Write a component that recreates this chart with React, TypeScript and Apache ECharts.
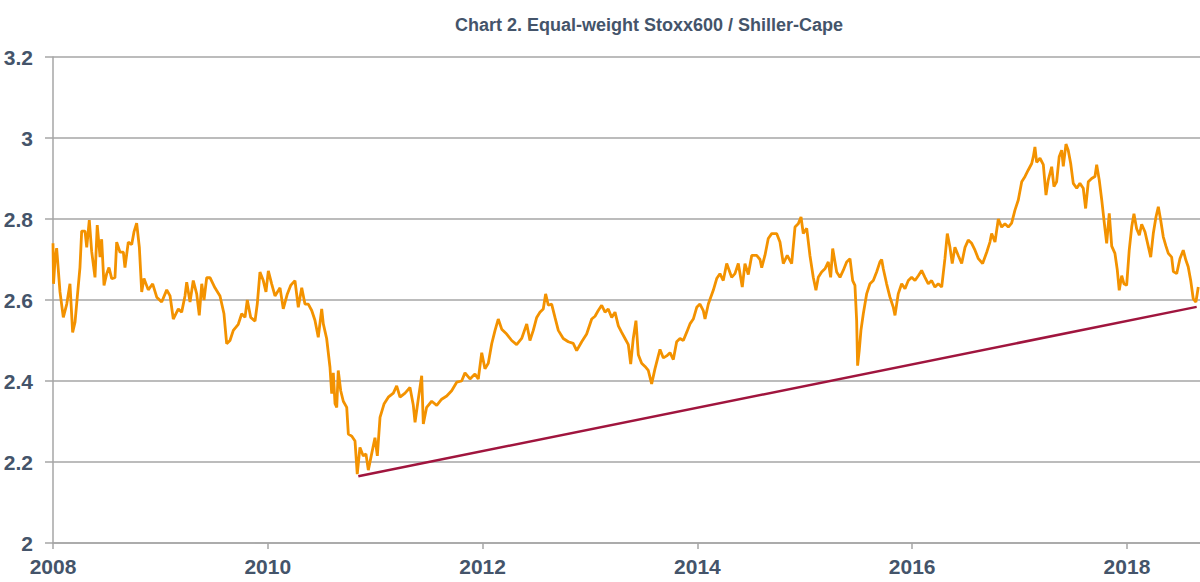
import React, { useEffect, useRef } from "react";
import * as echarts from "echarts";

const TITLE = "Chart 2. Equal-weight Stoxx600 / Shiller-Cape";

const yearTicks = [2008, 2010, 2012, 2014, 2016, 2018];
const valueTicks = [2, 2.2, 2.4, 2.6, 2.8, 3, 3.2];

// decimal years
const years = [
  2008.0, 2008.005, 2008.019, 2008.034, 2008.065, 2008.096, 2008.128, 2008.158, 2008.183, 2008.205,
  2008.226, 2008.251, 2008.267, 2008.298, 2008.314, 2008.338, 2008.36, 2008.391, 2008.412, 2008.438,
  2008.453, 2008.475, 2008.5, 2008.521, 2008.547, 2008.577, 2008.593, 2008.624, 2008.655, 2008.67,
  2008.701, 2008.733, 2008.754, 2008.779, 2008.804, 2008.826, 2008.847, 2008.887, 2008.928, 2008.966,
  2009.012, 2009.059, 2009.09, 2009.12, 2009.167, 2009.198, 2009.229, 2009.245, 2009.276, 2009.306,
  2009.338, 2009.362, 2009.385, 2009.406, 2009.431, 2009.462, 2009.508, 2009.555, 2009.592, 2009.617,
  2009.648, 2009.679, 2009.725, 2009.757, 2009.788, 2009.809, 2009.841, 2009.881, 2009.902, 2009.927,
  2009.958, 2009.983, 2010.005, 2010.036, 2010.067, 2010.114, 2010.144, 2010.182, 2010.213, 2010.253,
  2010.284, 2010.316, 2010.346, 2010.377, 2010.409, 2010.439, 2010.47, 2010.502, 2010.517, 2010.548,
  2010.579, 2010.595, 2010.61, 2010.626, 2010.642, 2010.656, 2010.679, 2010.703, 2010.735, 2010.75,
  2010.781, 2010.812, 2010.833, 2010.858, 2010.889, 2010.914, 2010.936, 2010.967, 2010.998, 2011.02,
  2011.045, 2011.082, 2011.122, 2011.169, 2011.2, 2011.231, 2011.278, 2011.324, 2011.355, 2011.371,
  2011.401, 2011.433, 2011.448, 2011.479, 2011.526, 2011.573, 2011.619, 2011.666, 2011.712, 2011.759,
  2011.805, 2011.836, 2011.883, 2011.929, 2011.96, 2011.992, 2012.022, 2012.053, 2012.085, 2012.116,
  2012.146, 2012.178, 2012.224, 2012.271, 2012.317, 2012.364, 2012.411, 2012.441, 2012.472, 2012.504,
  2012.534, 2012.565, 2012.587, 2012.612, 2012.643, 2012.674, 2012.705, 2012.751, 2012.798, 2012.844,
  2012.876, 2012.923, 2012.969, 2013.016, 2013.047, 2013.077, 2013.109, 2013.14, 2013.17, 2013.202,
  2013.233, 2013.264, 2013.295, 2013.326, 2013.357, 2013.379, 2013.403, 2013.428, 2013.45, 2013.481,
  2013.512, 2013.543, 2013.574, 2013.605, 2013.636, 2013.652, 2013.683, 2013.714, 2013.745, 2013.776,
  2013.807, 2013.838, 2013.869, 2013.9, 2013.931, 2013.962, 2013.994, 2014.024, 2014.055, 2014.071,
  2014.102, 2014.148, 2014.18, 2014.21, 2014.241, 2014.273, 2014.319, 2014.35, 2014.381, 2014.418,
  2014.443, 2014.474, 2014.506, 2014.552, 2014.583, 2014.599, 2014.629, 2014.66, 2014.692, 2014.738,
  2014.769, 2014.8, 2014.837, 2014.878, 2014.909, 2014.939, 2014.965, 2014.986, 2015.018, 2015.048,
  2015.079, 2015.104, 2015.126, 2015.157, 2015.188, 2015.219, 2015.241, 2015.26, 2015.297, 2015.328,
  2015.358, 2015.39, 2015.421, 2015.446, 2015.467, 2015.483, 2015.492, 2015.507, 2015.523, 2015.545,
  2015.576, 2015.607, 2015.638, 2015.669, 2015.7, 2015.716, 2015.731, 2015.762, 2015.793, 2015.824,
  2015.84, 2015.87, 2015.902, 2015.933, 2015.964, 2015.995, 2016.026, 2016.057, 2016.088, 2016.119,
  2016.15, 2016.181, 2016.212, 2016.243, 2016.275, 2016.305, 2016.327, 2016.352, 2016.373, 2016.398,
  2016.429, 2016.461, 2016.492, 2016.522, 2016.554, 2016.585, 2016.616, 2016.656, 2016.694, 2016.724,
  2016.74, 2016.771, 2016.802, 2016.833, 2016.864, 2016.895, 2016.926, 2016.957, 2016.988, 2017.02,
  2017.051, 2017.081, 2017.113, 2017.128, 2017.143, 2017.159, 2017.19, 2017.221, 2017.246, 2017.267,
  2017.299, 2017.32, 2017.345, 2017.369, 2017.392, 2017.407, 2017.432, 2017.453, 2017.476, 2017.5,
  2017.532, 2017.562, 2017.593, 2017.615, 2017.64, 2017.671, 2017.702, 2017.718, 2017.742, 2017.765,
  2017.786, 2017.811, 2017.835, 2017.858, 2017.888, 2017.91, 2017.928, 2017.951, 2017.972, 2017.997,
  2018.021, 2018.044, 2018.065, 2018.09, 2018.115, 2018.137, 2018.168, 2018.198, 2018.221, 2018.245,
  2018.27, 2018.292, 2018.314, 2018.338, 2018.363, 2018.385, 2018.416, 2018.432, 2018.463, 2018.493,
  2018.524, 2018.549, 2018.57, 2018.593, 2018.617, 2018.642, 2018.664,
];

// Equal-weight Stoxx600 / Shiller-CAPE ratio
const ratio = [
  2.74, 2.64, 2.7, 2.728, 2.62, 2.557, 2.59, 2.64, 2.52, 2.545,
  2.607, 2.68, 2.77, 2.77, 2.73, 2.797, 2.72, 2.656, 2.785, 2.706,
  2.75, 2.636, 2.665, 2.68, 2.653, 2.655, 2.743, 2.718, 2.718, 2.68,
  2.743, 2.737, 2.768, 2.79, 2.73, 2.62, 2.653, 2.625, 2.64, 2.607,
  2.595, 2.625, 2.61, 2.553, 2.578, 2.57, 2.61, 2.644, 2.595, 2.648,
  2.615, 2.562, 2.64, 2.6, 2.655, 2.655, 2.63, 2.61, 2.566, 2.492,
  2.5, 2.525, 2.54, 2.566, 2.557, 2.6, 2.557, 2.548, 2.59, 2.669,
  2.648, 2.62, 2.672, 2.64, 2.61, 2.63, 2.578, 2.615, 2.636, 2.648,
  2.582, 2.63, 2.59, 2.59, 2.574, 2.55, 2.508, 2.578, 2.541, 2.505,
  2.434, 2.369, 2.42, 2.344, 2.335, 2.426, 2.376, 2.35, 2.335, 2.269,
  2.264, 2.252, 2.17, 2.236, 2.215, 2.22, 2.18, 2.22, 2.26, 2.215,
  2.31, 2.343, 2.36, 2.37, 2.388, 2.36, 2.37, 2.384, 2.34, 2.298,
  2.355, 2.413, 2.294, 2.335, 2.35, 2.34, 2.355, 2.363, 2.376, 2.397,
  2.4, 2.42, 2.405, 2.417, 2.405, 2.47, 2.43, 2.444, 2.492, 2.525,
  2.553, 2.528, 2.516, 2.5, 2.49, 2.505, 2.541, 2.5, 2.525, 2.557,
  2.57, 2.578, 2.615, 2.587, 2.59, 2.557, 2.525, 2.505, 2.497, 2.493,
  2.475, 2.497, 2.516, 2.553, 2.56, 2.574, 2.587, 2.57, 2.578, 2.557,
  2.57, 2.536, 2.52, 2.505, 2.49, 2.442, 2.505, 2.549, 2.465, 2.444,
  2.436, 2.426, 2.393, 2.43, 2.462, 2.478, 2.457, 2.462, 2.47, 2.453,
  2.497, 2.505, 2.5, 2.52, 2.541, 2.553, 2.582, 2.59, 2.574, 2.553,
  2.59, 2.624, 2.653, 2.665, 2.648, 2.69, 2.656, 2.665, 2.69, 2.632,
  2.69, 2.663, 2.71, 2.71, 2.7, 2.68, 2.71, 2.752, 2.764, 2.764,
  2.743, 2.69, 2.71, 2.69, 2.78, 2.788, 2.805, 2.764, 2.777, 2.71,
  2.656, 2.624, 2.656, 2.669, 2.677, 2.694, 2.656, 2.727, 2.669, 2.656,
  2.673, 2.694, 2.702, 2.648, 2.636, 2.549, 2.438, 2.475, 2.525, 2.566,
  2.615, 2.64, 2.648, 2.669, 2.694, 2.7, 2.677, 2.64, 2.607, 2.582,
  2.562, 2.615, 2.64, 2.628, 2.648, 2.656, 2.648, 2.66, 2.673, 2.656,
  2.64, 2.648, 2.632, 2.64, 2.632, 2.702, 2.764, 2.73, 2.69, 2.73,
  2.71, 2.69, 2.73, 2.748, 2.74, 2.723, 2.702, 2.69, 2.718, 2.743,
  2.764, 2.743, 2.8, 2.78, 2.788, 2.78, 2.79, 2.822, 2.847, 2.892,
  2.905, 2.921, 2.937, 2.954, 2.978, 2.94, 2.95, 2.934, 2.859, 2.896,
  2.929, 2.88, 2.892, 2.954, 2.97, 2.93, 2.985, 2.97, 2.937, 2.888,
  2.876, 2.888, 2.876, 2.826, 2.892, 2.9, 2.905, 2.934, 2.896, 2.847,
  2.797, 2.74, 2.814, 2.733, 2.715, 2.674, 2.624, 2.66, 2.64, 2.636,
  2.723, 2.78, 2.813, 2.776, 2.76, 2.787, 2.768, 2.733, 2.706, 2.764,
  2.805, 2.83, 2.797, 2.756, 2.733, 2.715, 2.706, 2.67, 2.665, 2.702,
  2.723, 2.698, 2.682, 2.649, 2.603, 2.595, 2.632,
];

// support trend line endpoints
const trendYears = [2010.843, 2018.649];
const trendValues = [2.165, 2.583];

const X_MIN = 2008;
const X_MAX = 2018.68;

const LABEL_COLOR = "#44546a";
const GRID_COLOR = "#a6a6a6";

export default function App() {
  const ref = useRef<HTMLDivElement>(null);

  useEffect(() => {
    if (!ref.current) return;
    const chart = echarts.init(ref.current, undefined, { renderer: "svg" });
    const lineData = years.map((y, i) => [y, ratio[i]]);
    const trendData = trendYears.map((y, i) => [y, trendValues[i]]);
    chart.setOption({
      animation: false,
      backgroundColor: "#ffffff",
      title: {
        text: TITLE,
        left: 644,
        top: 11,
        textAlign: "center",
        textStyle: {
          fontFamily: "Liberation Sans, Arial, sans-serif",
          fontWeight: "bold",
          fontSize: 18,
          color: LABEL_COLOR,
        },
      },
      grid: { left: 53, right: 0, top: 57, bottom: 39, containLabel: false },
      xAxis: {
        type: "value",
        min: X_MIN,
        max: X_MAX,
        interval: 2,
        axisLine: { show: true, onZero: false, lineStyle: { color: GRID_COLOR, width: 1.5 } },
        axisTick: { show: true, length: 6, lineStyle: { color: GRID_COLOR, width: 1.5 } },
        splitLine: { show: false },
        axisLabel: {
          showMaxLabel: false,
          margin: 13,
          color: LABEL_COLOR,
          fontFamily: "Liberation Sans, Arial, sans-serif",
          fontWeight: "bold",
          fontSize: 21,
          formatter: (v: number) => (yearTicks.includes(Math.round(v)) ? String(Math.round(v)) : ""),
        },
      },
      yAxis: {
        type: "value",
        min: valueTicks[0],
        max: valueTicks[valueTicks.length - 1],
        interval: 0.2,
        axisLine: { show: true, lineStyle: { color: GRID_COLOR, width: 1.5 } },
        axisTick: { show: true, length: 8, lineStyle: { color: GRID_COLOR, width: 1.5 } },
        splitLine: { show: true, lineStyle: { color: GRID_COLOR, width: 1.5 } },
        axisLabel: {
          margin: 20,
          color: LABEL_COLOR,
          fontFamily: "Liberation Sans, Arial, sans-serif",
          fontWeight: "bold",
          fontSize: 21,
          formatter: (v: number) => String(+v.toFixed(1)),
        },
      },
      series: [
        {
          type: "line",
          data: lineData,
          showSymbol: false,
          symbol: "none",
          lineStyle: { color: "#f39200", width: 2.8 },
          z: 3,
        },
        {
          type: "line",
          data: trendData,
          showSymbol: false,
          symbol: "none",
          lineStyle: { color: "#a0153e", width: 2.5 },
          z: 2,
        },
      ],
    });
    return () => chart.dispose();
  }, []);

  return (
    <div
      ref={ref}
      style={{ position: "fixed", left: 0, top: 0, width: 1200, height: 582, background: "#fff" }}
    />
  );
}
